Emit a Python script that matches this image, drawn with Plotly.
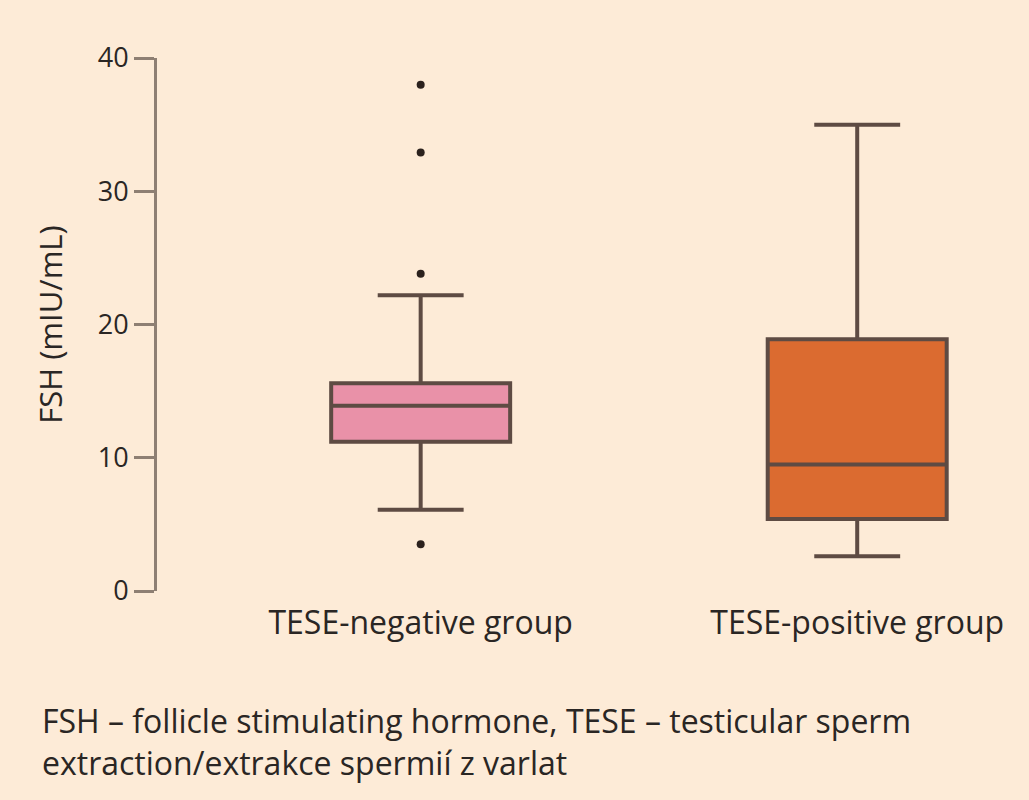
import plotly.graph_objects as go

# --- data ---
groups = ['TESE-negative group', 'TESE-positive group']
q1 = [11.2, 5.4]
median = [13.9, 9.5]
q3 = [15.6, 18.9]
lower_fence = [6.1, 2.6]
upper_fence = [22.2, 35.0]
outlier_group = [0, 0, 0, 0]
outlier_values = [38.0, 32.9, 23.8, 3.5]

box_fill = ['#e991a8', '#db6b30']
bg = '#fdebd7'
line_col = '#5e4b43'

fig = go.Figure()
for i, name in enumerate(groups):
    fig.add_trace(go.Box(
        x=[i], q1=[q1[i]], median=[median[i]], q3=[q3[i]],
        lowerfence=[lower_fence[i]], upperfence=[upper_fence[i]],
        fillcolor=box_fill[i], line=dict(color=line_col, width=4),
        whiskerwidth=0.48, width=0.41, boxpoints=False,
        name=name, showlegend=False, hoverinfo='skip'))

fig.add_trace(go.Scatter(
    x=outlier_group, y=outlier_values, mode='markers',
    marker=dict(color='#2b211d', size=8), showlegend=False, hoverinfo='skip'))

fig.update_layout(
    width=1029, height=800,
    margin=dict(l=157, r=19, t=58, b=209),
    paper_bgcolor=bg, plot_bgcolor=bg,
    font=dict(family='Open Sans, sans-serif', color='#2a2624'),
    xaxis=dict(range=[-0.604, 1.35], tickvals=[0, 1], ticktext=groups,
               showgrid=False, zeroline=False, showline=False, ticks='',
               tickfont=dict(size=32), ticklabelstandoff=10),
    yaxis=dict(range=[0, 40], tickvals=[0, 10, 20, 30, 40],
               showgrid=False, zeroline=False, showline=True,
               linecolor='#8e7f73', linewidth=3,
               ticks='outside', ticklen=20, tickwidth=3, tickcolor='#8e7f73',
               tickfont=dict(size=27),
               title=dict(text='FSH (mIU/mL)', font=dict(size=31), standoff=26)),
    annotations=[dict(
        text='FSH – follicle stimulating hormone, TESE – testicular sperm<br>extraction/extrakce spermií z varlat',
        xref='paper', yref='paper', x=(40 - 157) / 853, y=-0.198, xanchor='left', yanchor='top',
        align='left', showarrow=False,
        font=dict(size=32, color='#2a2624'))],
)

fig.write_html("out.html", config={'displayModeBar': False},
               post_script="document.body.style.margin='0';")
